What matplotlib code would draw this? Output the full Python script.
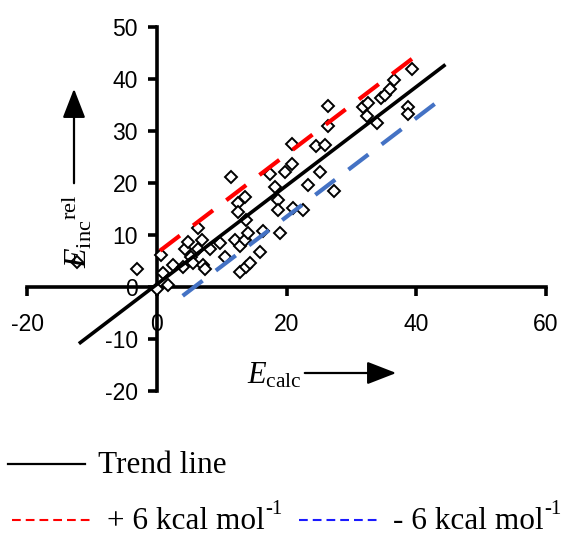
import matplotlib
matplotlib.use("Agg")
import matplotlib.pyplot as plt
import numpy as np
from matplotlib.lines import Line2D
from matplotlib.patches import FancyArrowPatch

# ---- data -------------------------------------------------------------
e_calc = [-12.3, -3.1, 0.0, 0.7, 1.0, 1.7, 2.5, 4.1, 4.3, 4.8, 5.3, 5.6,
          6.4, 6.4, 6.9, 7.1, 7.4, 8.2, 9.7, 10.5, 11.5, 12.0, 12.5, 12.5,
          12.8, 12.8, 13.6, 13.6, 13.8, 13.8, 14.1, 14.4, 15.9, 16.4, 17.4,
          18.2, 18.7, 18.7, 19.0, 19.8, 20.8, 20.8, 21.0, 22.6, 23.3, 24.6,
          25.2, 25.9, 26.4, 26.4, 27.3, 31.8, 32.4, 32.6, 33.9, 34.6, 35.2,
          36.0, 36.5, 38.8, 38.8, 39.3]
e_inc = [4.8, 3.5, -0.4, 6.2, 2.6, 0.3, 4.3, 3.9, 7.4, 8.7, 5.8, 4.6,
         7.4, 11.3, 9.0, 4.2, 3.4, 7.4, 8.4, 5.8, 21.2, 9.0, 16.2, 14.5,
         7.8, 2.9, 9.0, 17.4, 3.9, 12.9, 10.3, 4.6, 6.8, 10.8, 21.7,
         19.3, 16.7, 14.8, 10.4, 22.2, 23.6, 27.5, 15.1, 14.8, 19.6, 27.1,
         22.2, 27.4, 31.0, 34.9, 18.5, 34.7, 32.8, 35.3, 31.6, 36.4, 36.9,
         38.0, 39.8, 34.6, 33.3, 41.9]

trend_slope = 0.95
trend_intercept = 0.5
offset = 6.0                       # kcal/mol band around the trend line
trend_x = [-12.0, 44.5]
upper_x = [0.5, 41.0]
lower_x = [4.0, 44.0]

x_ticks = [-20, 0, 20, 40, 60]
y_ticks = [-20, -10, 0, 10, 20, 30, 40, 50]

legend_labels = ["Trend line", "+ 6 kcal mol", "- 6 kcal mol"]
unit_exponent = "-1"

# ---- style ------------------------------------------------------------
plt.rcParams["axes.unicode_minus"] = False
plt.rcParams["mathtext.fontset"] = "custom"
plt.rcParams["mathtext.rm"] = "Liberation Serif"
plt.rcParams["mathtext.it"] = "Liberation Serif:italic"
plt.rcParams["mathtext.bf"] = "Liberation Serif:bold"

W, H = 562, 537
fig = plt.figure(figsize=(W / 100, H / 100), dpi=100)


def fx(px):
    return px / W


def fy(py):
    return 1 - py / H


ax = fig.add_axes([fx(27), fy(391), fx(546) - fx(27), fy(27) - fy(391)])
ax.set_xlim(-20, 60)
ax.set_ylim(-20, 50)

for side in ("top", "right"):
    ax.spines[side].set_visible(False)
for side in ("left", "bottom"):
    ax.spines[side].set_position(("data", 0))
    ax.spines[side].set_linewidth(2.6)
ax.set_xticks(x_ticks)
ax.set_yticks(y_ticks)
ax.tick_params(direction="out", length=6.5, width=2.6, labelsize=16.5)
ax.tick_params(axis="x", pad=12)
ax.tick_params(axis="y", pad=7)
for lab in ax.get_xticklabels() + ax.get_yticklabels():
    lab.set_fontfamily("Liberation Sans")

# scatter
ax.plot(e_calc, e_inc, linestyle="none", marker="D", markersize=5.8,
        markerfacecolor="white", markeredgecolor="black",
        markeredgewidth=1.4, zorder=3, clip_on=False)

# trend line and +/- band
tx = np.array(trend_x)
ax.plot(tx, trend_slope * tx + trend_intercept, color="black", lw=2.6,
        zorder=4, solid_capstyle="butt")
ux = np.array(upper_x)
ax.plot(ux, trend_slope * ux + trend_intercept + offset, color="#ff0000",
        lw=3, dashes=(6, 4), zorder=4)
lx = np.array(lower_x)
ax.plot(lx, trend_slope * lx + trend_intercept - offset, color="#4472c4",
        lw=3, dashes=(6, 4), zorder=4)

# axis titles with arrows
arrow_style = "-|>,head_length=0.9,head_width=0.35"
fig.text(fx(247), fy(383), r"$E_{\mathrm{calc}}$", fontsize=22,
         ha="left", va="baseline")
fig.add_artist(FancyArrowPatch(
    (fx(302), fy(373)), (fx(399), fy(373)), transform=fig.transFigure,
    arrowstyle=arrow_style, mutation_scale=20, color="black", lw=1.6))

fig.text(fx(95), fy(231), r"$E_{\mathrm{inc}}{}^{\mathrm{rel}}$",
         fontsize=23, rotation=90, ha="right", va="center")
fig.add_artist(FancyArrowPatch(
    (fx(74), fy(186)), (fx(74), fy(86)), transform=fig.transFigure,
    arrowstyle=arrow_style, mutation_scale=20, color="black", lw=1.6))

# legend below the axes
legend_font = dict(fontsize=22.5, family="Liberation Serif")
fig.add_artist(Line2D([fx(8), fx(85)], [fy(464), fy(464)], color="black",
                      lw=1.6))
fig.text(fx(98), fy(473), legend_labels[0], ha="left", va="baseline",
         **legend_font)

fig.add_artist(Line2D([fx(12), fx(91)], [fy(520), fy(520)], color="#ff0000",
                      lw=1.5, dashes=(4.2, 2.4)))
plus_txt = fig.text(fx(107), fy(529), legend_labels[1], ha="left",
                    va="baseline", **legend_font)
fig.add_artist(Line2D([fx(299), fx(378)], [fy(520), fy(520)],
                      color="#1a1aff", lw=1.5, dashes=(4.2, 2.4)))
minus_txt = fig.text(fx(393), fy(529), legend_labels[2], ha="left",
                     va="baseline", **legend_font)

# unit exponents placed right after "mol"
fig.canvas.draw()
renderer = fig.canvas.get_renderer()
for t in (plus_txt, minus_txt):
    bb = t.get_window_extent(renderer)
    fig.text(bb.x1 / W + fx(1), fy(514), unit_exponent, ha="left",
             va="baseline", fontsize=15, family="Liberation Serif")

fig.savefig("out.png", dpi=100)
